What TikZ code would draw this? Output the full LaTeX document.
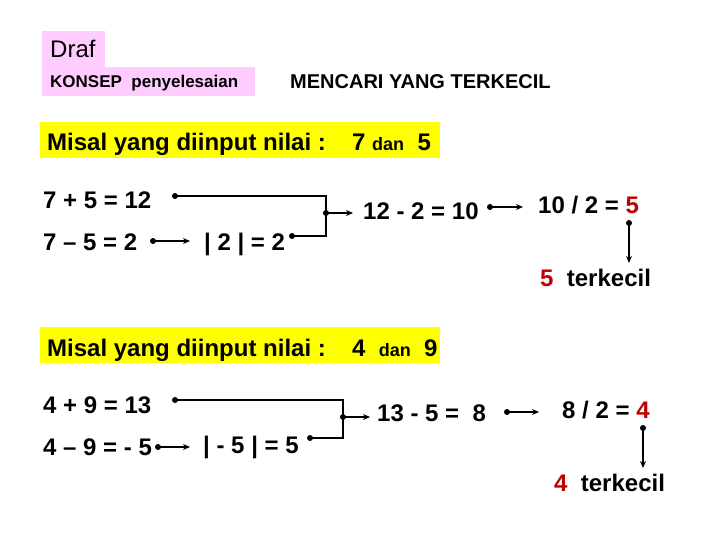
\documentclass[tikz,border=0pt]{standalone}
\usepackage{fontspec}
\setmainfont{Liberation Sans}
\usetikzlibrary{arrows.meta}
\definecolor{pinkbg}{RGB}{255,204,255}
\definecolor{yellowbg}{RGB}{255,255,0}
\definecolor{darkred}{RGB}{192,0,0}
\newcommand{\rd}[1]{\textcolor{darkred}{#1}}
\tikzset{
  txt/.style={anchor=base west, inner sep=0pt, font=\fontsize{24}{28}\selectfont\bfseries},
  conn/.style={line width=1.8pt},
  arr/.style={line width=1.8pt, -{Stealth[length=7pt,width=6pt]}},
  dotmark/.style={circle, fill=black, inner sep=0pt, minimum size=6pt}
}
\begin{document}
\begin{tikzpicture}[x=1pt,y=-1pt]
\useasboundingbox (0,0) rectangle (720,540);
% header
\fill[pinkbg] (42,31) rectangle (105,68);
\fill[pinkbg] (42,67) rectangle (255,96);
\node[txt, font=\fontsize{24}{28}\selectfont] (draf) at (50,58) {Draf};
\node[txt, font=\fontsize{17}{20}\selectfont\bfseries] (konsep) at (50,88) {KONSEP\ \ penyelesaian};
\node[txt, font=\fontsize{20}{24}\selectfont\bfseries] (judul) at (290,89) {MENCARI YANG TERKECIL};

% ===== section 1 =====
\fill[yellowbg] (40,122) rectangle (440,158);
\node[txt] (m1) at (47,151) {Misal yang diinput nilai :};
\node[txt] (v1) at (352,151) {7\ {\fontsize{18}{20}\selectfont dan}\ \ 5};

\node[txt] (a1) at (43,209) {7 + 5 = 12};
\node[txt] (b1) at (43,251) {7 – 5 = 2};
\node[txt] (c1) at (204,251) {| 2 | = 2};
\node[txt] (s1) at (363,220) {12 - 2 = 10};
\node[txt] (h1) at (538,214) {10 / 2 = \rd{5}};
\node[txt] (r1) at (540,286) {\rd{5}\ \ terkecil};

\node[dotmark] (pa1) at (175,196) {};
\node[dotmark] (pc1) at (292,236) {};
\node[dotmark] (j1) at (326,213) {};
\node[dotmark] (pb1) at (153,241) {};
\node[dotmark] (ps1) at (490,207) {};
\node[dotmark] (ph1) at (629,223) {};
\coordinate (k1) at (326,196);
\coordinate (k2) at (326,236);
\coordinate (t1) at (353,213);
\coordinate (tb1) at (190,241);
\coordinate (ts1) at (523,207);
\coordinate (th1) at (629,263);

\draw[conn] (pa1.center) -- (k1) -- (k2) -- (pc1.center);
\draw[arr] (j1.center) -- (t1);
\draw[arr] (pb1.center) -- (tb1);
\draw[arr] (ps1.center) -- (ts1);
\draw[arr] (ph1.center) -- (th1);

% ===== section 2 =====
\fill[yellowbg] (40,327) rectangle (440,363);
\node[txt] (m2) at (47,356) {Misal yang diinput nilai :};
\node[txt] (v2) at (352,356) {4\ \ {\fontsize{18}{20}\selectfont dan}\ \ 9};

\node[txt] (a2) at (43,413) {4 + 9 = 13};
\node[txt] (b2) at (43,455) {4 – 9 = - 5};
\node[txt] (c2) at (203,453) {| - 5 | = 5};
\node[txt] (s2) at (377,421) {13 - 5 =\ \ 8};
\node[txt] (h2) at (562,418) {8 / 2 = \rd{4}};
\node[txt] (r2) at (554,491) {\rd{4}\ \ terkecil};

\node[dotmark] (pa2) at (175,400) {};
\node[dotmark] (pc2) at (310,438) {};
\node[dotmark] (j2) at (343,417) {};
\node[dotmark] (pb2) at (158,447) {};
\node[dotmark] (ps2) at (507,412) {};
\node[dotmark] (ph2) at (643,428) {};
\coordinate (k3) at (343,400);
\coordinate (k4) at (343,438);
\coordinate (t2) at (370,417);
\coordinate (tb2) at (190,447);
\coordinate (ts2) at (539,412);
\coordinate (th2) at (643,468);

\draw[conn] (pa2.center) -- (k3) -- (k4) -- (pc2.center);
\draw[arr] (j2.center) -- (t2);
\draw[arr] (pb2.center) -- (tb2);
\draw[arr] (ps2.center) -- (ts2);
\draw[arr] (ph2.center) -- (th2);
\end{tikzpicture}
\end{document}
